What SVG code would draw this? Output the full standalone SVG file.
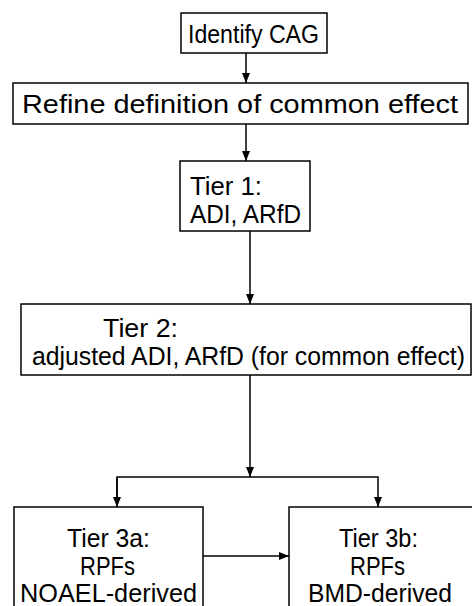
<svg xmlns="http://www.w3.org/2000/svg" width="472" height="606" viewBox="0 0 472 606">
<style>
.box{fill:#fff;stroke:#000;stroke-width:1.5}
.t{font-family:"Liberation Sans",Arial,sans-serif;font-size:25px;fill:#000}
.c{stroke:#000;stroke-width:1.5;fill:none}
</style>
<defs>
<marker id="ah" markerUnits="userSpaceOnUse" markerWidth="10" markerHeight="10" viewBox="0 0 10 10" refX="10" refY="5" orient="auto">
<path d="M0,1 L10,5 L0,9 Z" fill="#000"/>
</marker>
</defs>
<rect width="472" height="606" fill="#fff"/>
<g id="connectors">
<line class="c" x1="246" y1="53" x2="246" y2="83" marker-end="url(#ah)"/>
<line class="c" x1="246" y1="124" x2="246" y2="161" marker-end="url(#ah)"/>
<line class="c" x1="250" y1="231" x2="250" y2="304" marker-end="url(#ah)"/>
<line class="c" x1="250" y1="375" x2="250" y2="477" marker-end="url(#ah)"/>
<polyline class="c" points="117,507 117,477 378,477 378,507" marker-end="url(#ah)"/>
<line class="c" x1="117" y1="478" x2="117" y2="507" marker-end="url(#ah)"/>
<line class="c" x1="203" y1="556" x2="289" y2="556" marker-end="url(#ah)"/>
</g>
<g id="n1">
<rect class="box" x="181" y="13" width="146" height="40"/>
<text class="t" x="188" y="43" textLength="131" lengthAdjust="spacingAndGlyphs">Identify CAG</text>
</g>
<g id="n2">
<rect class="box" x="13" y="83" width="455" height="41"/>
<text class="t" x="22" y="113" textLength="436" lengthAdjust="spacingAndGlyphs">Refine definition of common effect</text>
</g>
<g id="n3">
<rect class="box" x="180" y="161" width="130" height="70"/>
<text class="t" x="190" y="195" textLength="72" lengthAdjust="spacingAndGlyphs">Tier 1:</text>
<text class="t" x="190" y="223" textLength="111" lengthAdjust="spacingAndGlyphs">ADI, ARfD</text>
</g>
<g id="n4">
<rect class="box" x="21" y="304" width="450" height="71"/>
<text class="t" x="103" y="337" textLength="75" lengthAdjust="spacingAndGlyphs">Tier 2:</text>
<text class="t" x="32" y="365" textLength="433" lengthAdjust="spacingAndGlyphs">adjusted ADI, ARfD (for common effect)</text>
</g>
<g id="n5">
<rect class="box" x="14" y="507" width="189" height="110"/>
<text class="t" x="67" y="547" textLength="83" lengthAdjust="spacingAndGlyphs">Tier 3a:</text>
<text class="t" x="80" y="575" textLength="55" lengthAdjust="spacingAndGlyphs">RPFs</text>
<text class="t" x="20" y="602" textLength="177" lengthAdjust="spacingAndGlyphs">NOAEL-derived</text>
</g>
<g id="n6">
<rect class="box" x="289" y="507" width="190" height="110"/>
<text class="t" x="339" y="547" textLength="79" lengthAdjust="spacingAndGlyphs">Tier 3b:</text>
<text class="t" x="350" y="575" textLength="55" lengthAdjust="spacingAndGlyphs">RPFs</text>
<text class="t" x="308" y="602" textLength="144" lengthAdjust="spacingAndGlyphs">BMD-derived</text>
</g>
</svg>
